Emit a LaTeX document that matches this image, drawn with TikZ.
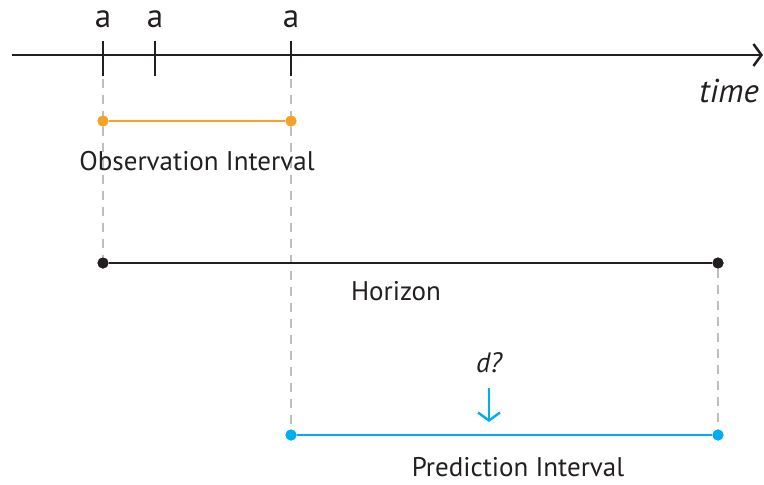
\documentclass[tikz,border=0pt]{standalone}
\usepackage{fontspec}
\setmainfont{PT Sans}
\usetikzlibrary{arrows.meta,positioning}
\definecolor{obsorange}{HTML}{F7A226}
\definecolor{predblue}{HTML}{00AEEF}
\definecolor{lineink}{HTML}{231F20}
\definecolor{guidegray}{HTML}{BCBEC0}

\begin{document}
\begin{tikzpicture}[x=1pt,y=-1pt,
  dot/.style={circle,fill=#1,inner sep=0pt,minimum size=11pt},
  span/.style={line width=2.7pt,#1},
  guide/.style={guidegray,line width=2.4pt,dash pattern=on 9pt off 7pt},
  lbl/.style={font=\fontsize{27}{30}\selectfont,text=lineink,inner sep=0pt,anchor=base},
  biglbl/.style={lbl,font=\fontsize{33}{36}\selectfont},
  tickmark/.style={lineink,line width=2.5pt}
]
  \useasboundingbox (0,0) rectangle (764,485);

  % time axis with ticks
  \coordinate (start) at (12,55);
  \coordinate (end) at (763,55);
  \draw[lineink,line width=2.5pt,-{Straight Barb[length=8pt,width=22pt]}] (start) -- (end);
  \foreach \name/\x in {t1/103,t2/155,t3/291}{
    \coordinate (\name) at (\x,55);
    \draw[tickmark] ([yshift=14pt]\name) -- ([yshift=-21pt]\name);
    \node[biglbl] (\name-a) at (\x,27) {a};
  }
  \node[biglbl,anchor=base east,font=\fontsize{33}{36}\selectfont\itshape] (timelbl) at (759,102) {time};

  % interval end points
  \node[dot=obsorange] (obsL) at (103,121) {};
  \node[dot=obsorange] (obsR) at (291,121) {};
  \node[dot=lineink] (hzL) at (103,263) {};
  \node[dot=lineink] (hzR) at (718,263) {};
  \node[dot=predblue] (pdL) at (291,435) {};
  \node[dot=predblue] (pdR) at (718,435) {};

  % guides
  \draw[guide] ([yshift=-24pt]t1) -- (hzL);
  \draw[guide] ([yshift=-24pt]t3) -- (pdL);
  \draw[guide] (hzR) -- (pdR);

  % intervals
  \draw[span=obsorange] (obsL) -- (obsR);
  \draw[span=lineink] (hzL) -- (hzR);
  \draw[span=predblue] (pdL) -- (pdR);
  \foreach \n/\c in {obsL/obsorange,obsR/obsorange,hzL/lineink,hzR/lineink,pdL/predblue,pdR/predblue}
    \fill[\c] (\n) circle (5.5pt);

  \node[lbl] (obslbl) at (197,170) {Observation Interval};
  \node[lbl] (hzlbl) at (396,300) {Horizon};
  \node[lbl] (pdlbl) at (518,476) {Prediction Interval};

  % unknown d
  \node[lbl,font=\fontsize{28}{30}\selectfont\itshape] (dq) at (489,372) {d?};
  \coordinate (dtip) at (489,422);
  \draw[predblue,line width=2.4pt,-{Straight Barb[length=8pt,width=22pt]}] (489,388) -- (dtip);
\end{tikzpicture}
\end{document}
